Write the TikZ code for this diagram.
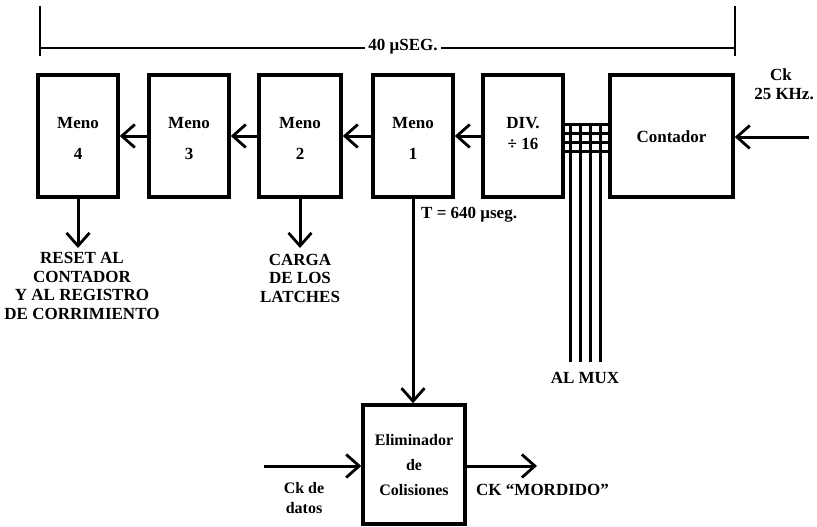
\documentclass[tikz,border=0pt]{standalone}
\usepackage{fontspec}
\setmainfont{Liberation Serif}
\usetikzlibrary{arrows.meta}
\tikzset{
  blk/.style={draw, line width=3.4pt, minimum height=122pt, inner sep=0pt},
  txt/.style={font=\fontsize{17}{18.5}\selectfont\bfseries, inner sep=0pt, align=center},
  stxt/.style={font=\fontsize{16}{20}\selectfont\bfseries, inner sep=0pt, align=center},
  arr/.style={line width=3pt, -{Straight Barb[length=13pt,width=23pt,line width=2.8pt]}},
  bus/.style={line width=3pt}
}
\begin{document}
\begin{tikzpicture}[x=1pt,y=-1pt]
\useasboundingbox (0,0) rectangle (817,527);
% dimension line
\coordinate (dl) at (40,48);
\coordinate (dr) at (735,48);
\draw[line width=2pt] (40,6) -- (40,56);
\draw[line width=2pt] (735,6) -- (735,56);
\draw[line width=1.8pt] (dl) -- (dr);
\node[txt, fill=white, inner xsep=3pt, inner ysep=2pt] (dim) at (403,47) {40 μSEG.};
% blocks
\node[blk, minimum width=80pt] (m4) at (78,136) {};
\node[blk, minimum width=80pt] (m3) at (189,136) {};
\node[blk, minimum width=82pt] (m2) at (300,136) {};
\node[blk, minimum width=80pt] (m1) at (413,136) {};
\node[blk, minimum width=80pt] (dv) at (523,136) {};
\node[blk, minimum width=123pt] (ct) at (671.5,136) {};
\node[blk, minimum width=102pt, minimum height=119pt] (el) at (414,464.5) {};
% block labels
\node[txt] (m4a) at (78,123) {Meno};
\node[txt] (m4b) at (78,154) {4};
\node[txt] (m3a) at (189,123) {Meno};
\node[txt] (m3b) at (189,154) {3};
\node[txt] (m2a) at (300,123) {Meno};
\node[txt] (m2b) at (300,154) {2};
\node[txt] (m1a) at (413,123) {Meno};
\node[txt] (m1b) at (413,154) {1};
\node[txt] (dva) at (523,123) {DIV.};
\node[txt] (dvb) at (523,144) {÷ 16};
\node[txt] (cta) at (671.5,137) {Contador};
\node[stxt] (ela) at (414,440) {Eliminador};
\node[stxt] (elb) at (414,465) {de};
\node[stxt] (elc) at (414,490) {Colisiones};
% chain arrows
\draw[arr] (m3.west) -- (m4.east);
\draw[arr] (m2.west) -- (m3.east);
\draw[arr] (m1.west) -- (m2.east);
\draw[arr] (dv.west) -- (m1.east);
\coordinate (ckin) at (809,137);
\draw[arr] (ckin) -- (ct.east |- ckin);
\node[txt] (ck1) at (781,75) {Ck};
\node[txt] (ck2) at (784,94) {25 KHz.};
% outputs down
\coordinate (m4o) at (78,248);
\draw[arr] (m4.south) -- (m4o);
\node[txt] (rst) at (82,286) {RESET AL\\CONTADOR\\Y AL REGISTRO\\DE CORRIMIENTO};
\coordinate (m2o) at (300,248);
\draw[arr] (m2.south) -- (m2o);
\node[txt] (crg) at (300,278) {CARGA\\DE LOS\\LATCHES};
\draw[arr] (m1.south) -- (el.north -| m1.south);
\node[txt, anchor=west] (tt) at (421,215) {T = 640 μseg.};
% bus
\foreach \s in {12,3,-6,-15}{
  \draw[bus] ([yshift=\s pt]dv.east) -- ([yshift=\s pt]ct.west);
}
\coordinate (b1) at (570,124); \coordinate (c1) at (570,362);
\coordinate (b2) at (580,124); \coordinate (c2) at (580,362);
\coordinate (b3) at (590,124); \coordinate (c3) at (590,362);
\coordinate (b4) at (600,124); \coordinate (c4) at (600,362);
\draw[bus] (b1) -- (c1);
\draw[bus] (b2) -- (c2);
\draw[bus] (b3) -- (c3);
\draw[bus] (b4) -- (c4);
\node[txt] (mux) at (585,378) {AL MUX};
% eliminador io
\coordinate (din) at (264,466);
\draw[arr] (din) -- (el.west |- din);
\node[stxt] (ckd) at (304,498) {Ck de\\datos};
\coordinate (dout) at (537,466);
\draw[arr] (el.east |- dout) -- (dout);
\node[txt, anchor=west] (ckm) at (476,490) {CK “MORDIDO”};
\end{tikzpicture}
\end{document}
